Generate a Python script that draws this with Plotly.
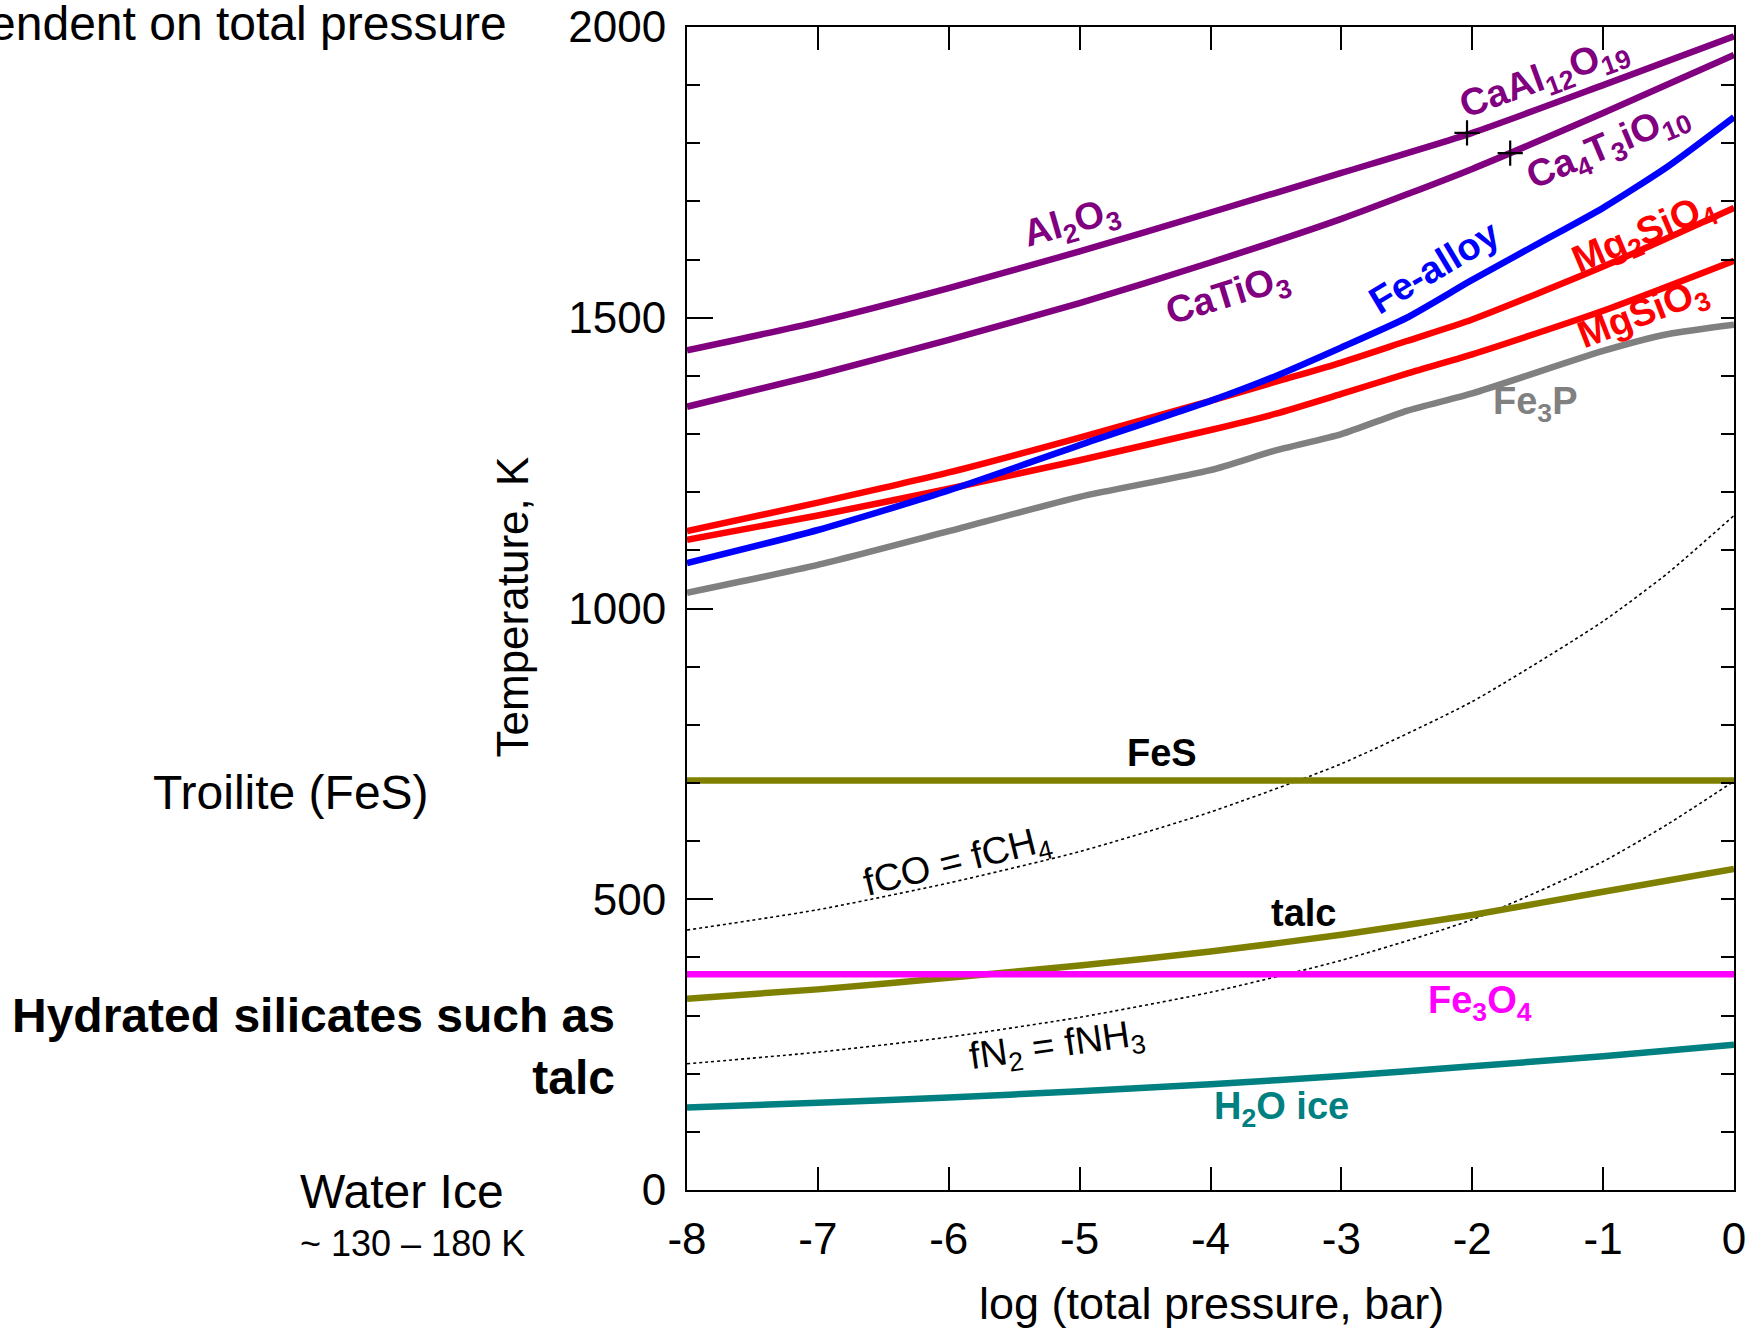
import plotly.graph_objects as go

# ---------------- data ----------------
P_GRID = [-8, -7, -6, -5, -4, -3, -2, -1, 0]
P_FINE = [-8, -7, -6, -5, -4, -3.5, -3, -2.5, -2, -1, 0]
P_DOT = [-8, -7, -6, -5, -4, -3, -2, -1, -0.5, 0]

CAAL12O19_T = [1444, 1493, 1551, 1614, 1681, 1749, 1818, 1900, 1984]
CATIO3_T = [1347, 1402, 1462, 1525, 1595, 1670, 1756, 1852, 1952]

FE_ALLOY_P = [-8, -7, -6, -5, -4, -3.5, -3, -2.5, -2, -1.5, -1, -0.5, 0]
FE_ALLOY_T = [1078, 1135, 1203, 1281, 1357, 1400, 1449, 1500, 1565, 1627, 1689, 1761, 1845]

MG2SIO4_T = [1133, 1182, 1234, 1294, 1357, 1390, 1423, 1460, 1497, 1588, 1689]
MGSIO3_T = [1118, 1160, 1206, 1255, 1307, 1335, 1369, 1404, 1437, 1512, 1598]

FE3P_P = [-8, -7, -6, -5, -4, -3.5, -3, -2.5, -2, -1, -0.5, 0]
FE3P_T = [1027, 1075, 1133, 1192, 1238, 1272, 1300, 1340, 1370, 1443, 1472, 1488]

FLAT_P = [-8, 0]
FES_T = [704, 704]
FE3O4_T = [371, 371]

TALC_T = [329, 345, 365, 386, 410, 439, 473, 513, 552]
H2O_T = [142, 150, 159, 170, 182, 196, 213, 230, 250]

FCO_T = [447, 482, 528, 582, 650, 733, 840, 978, 1062, 1160]
FN2_T = [217, 237, 263, 297, 340, 395, 465, 565, 630, 703]

CROSS_P = [-2.04, -1.71]
CROSS_T = [1818, 1783]

X_TICKVALS = [-8, -7, -6, -5, -4, -3, -2, -1, 0]
X_TICKTEXT = ["-8", "-7", "-6", "-5", "-4", "-3", "-2", "-1", "0"]
Y_TICKVALS = [0, 500, 1000, 1500, 2000]
Y_TICKTEXT = ["0", "500", "1000", "1500", "2000"]

# ---------------- styles ----------------
FONT = "Liberation Sans, Arial, Helvetica, sans-serif"
PURPLE = "#800080"
RED = "#ff0000"
BLUE = "#0000ff"
GRAY = "#808080"
OLIVE = "#808000"
MAGENTA = "#ff00ff"
TEAL = "#008080"
LW = 6.5

fig = go.Figure()


def line(x, y, color, width=LW, dash=None, shape="spline"):
    fig.add_trace(go.Scatter(
        x=x, y=y, mode="lines", showlegend=False, hoverinfo="skip",
        line=dict(color=color, width=width, dash=dash, shape=shape,
                  smoothing=0.6 if shape == "spline" else None)))


line(P_DOT, FCO_T, "black", width=1.6, dash="dot")
line(P_DOT, FN2_T, "black", width=1.6, dash="dot")
line(P_GRID, H2O_T, TEAL)
line(P_GRID, TALC_T, OLIVE)
line(FLAT_P, FE3O4_T, MAGENTA, shape="linear")
line(FLAT_P, FES_T, OLIVE, shape="linear")
line(FE3P_P, FE3P_T, GRAY)
line(P_FINE, MGSIO3_T, RED)
line(P_FINE, MG2SIO4_T, RED)
line(FE_ALLOY_P, FE_ALLOY_T, BLUE)
line(P_GRID, CATIO3_T, PURPLE)
line(P_GRID, CAAL12O19_T, PURPLE)

fig.add_trace(go.Scatter(
    x=CROSS_P, y=CROSS_T, mode="markers", showlegend=False, hoverinfo="skip",
    marker=dict(symbol="cross-thin", size=18, color="black",
                line=dict(color="black", width=2.2))))

# empty trace for the mirrored tick axes (top / right)
fig.add_trace(go.Scatter(x=[], y=[], xaxis="x2", yaxis="y2", showlegend=False))

# ---------------- curve labels ----------------
labels = [
    ("Al<sub>2</sub>O<sub>3</sub>", -5.06, 1662, -16, PURPLE, True, 38),
    ("CaTiO<sub>3</sub>", -3.87, 1536, -17, PURPLE, True, 38),
    ("CaAl<sub>12</sub>O<sub>19</sub>", -1.45, 1910, -20, PURPLE, True, 38),
    ("Ca<sub>4</sub>T<sub>3</sub>iO<sub>10</sub>", -0.96, 1793, -23, PURPLE, True, 38),
    ("Fe-alloy", -2.29, 1588, -31, BLUE, True, 38),
    ("Mg<sub>2</sub>SiO<sub>4</sub>", -0.69, 1643, -23, RED, True, 38),
    ("MgSiO<sub>3</sub>", -0.69, 1504, -21, RED, True, 38),
    ("Fe<sub>3</sub>P", -1.52, 1352, 0, GRAY, True, 38),
    ("FeS", -4.37, 752, 0, "black", True, 38),
    ("fCO = fCH<sub>4</sub>", -5.93, 563, -14, "black", False, 38),
    ("talc", -3.29, 476, 0, "black", True, 38),
    ("Fe<sub>3</sub>O<sub>4</sub>", -1.94, 322, 0, MAGENTA, True, 38),
    ("fN<sub>2</sub> = fNH<sub>3</sub>", -5.17, 246, -8, "black", False, 38),
    ("H<sub>2</sub>O ice", -3.46, 139, 0, TEAL, True, 38),
]
for text, x, y, ang, col, bold, size in labels:
    fig.add_annotation(
        x=x, y=y, xref="x", yref="y", showarrow=False,
        text=f"<b>{text}</b>" if bold else text, textangle=ang,
        font=dict(family=FONT, size=size, color=col),
        xanchor="center", yanchor="middle")

# ---------------- side texts ----------------
side = [
    ("dependent on total pressure", -0.170, 1.003, "right", "middle", 48, False, "left"),
    ("Troilite (FeS)", -0.2445, 0.3414, "right", "middle", 48, False, "left"),
    ("Hydrated silicates such as<br>talc", -0.0664, 0.123, "right", "middle", 48, True, "right"),
    ("Water Ice", -0.3715, -0.0017, "left", "middle", 48, False, "left"),
    ("~ 130 – 180 K", -0.3715, -0.0464, "left", "middle", 36, False, "left"),
]
for text, x, y, xa, ya, size, bold, align in side:
    fig.add_annotation(
        x=x, y=y, xref="paper", yref="paper", showarrow=False,
        text=f"<b>{text}</b>" if bold else text, align=align,
        font=dict(family=FONT, size=size, color="black"),
        xanchor=xa, yanchor=ya)

# axis titles
fig.add_annotation(x=-0.167, y=0.501, xref="paper", yref="paper", showarrow=False,
                   text="Temperature, K", textangle=-90,
                   font=dict(family=FONT, size=44, color="black"),
                   xanchor="center", yanchor="middle")
fig.add_annotation(x=0.5005, y=-0.098, xref="paper", yref="paper", showarrow=False,
                   text="log (total pressure, bar)",
                   font=dict(family=FONT, size=45, color="black"),
                   xanchor="center", yanchor="middle")

# ---------------- axes ----------------
fig.update_layout(
    width=1763, height=1330,
    margin=dict(l=687, r=29, t=27, b=140),
    plot_bgcolor="white", paper_bgcolor="white",
    showlegend=False,
    xaxis=dict(range=[-8, 0], tickmode="array", tickvals=X_TICKVALS, ticktext=X_TICKTEXT,
               ticks="inside", ticklen=23, tickwidth=1.5, tickcolor="black",
               showline=True, linecolor="black", linewidth=2, mirror=True,
               showgrid=False, zeroline=False, automargin=False,
               tickfont=dict(family=FONT, size=44, color="black"),
               ticklabelstandoff=9),
    yaxis=dict(range=[0, 2000], tickmode="array", tickvals=Y_TICKVALS, ticktext=Y_TICKTEXT,
               ticks="inside", ticklen=26, tickwidth=1.5, tickcolor="black",
               minor=dict(dtick=100, tick0=0, ticks="inside", ticklen=13, tickwidth=1.5,
                          tickcolor="black", showgrid=False),
               showline=True, linecolor="black", linewidth=2, mirror=True,
               showgrid=False, zeroline=False, automargin=False,
               tickfont=dict(family=FONT, size=44, color="black"),
               ticklabelstandoff=10),
    xaxis2=dict(range=[-8, 0], overlaying="x", side="top", anchor="y2",
                tickmode="array", tickvals=X_TICKVALS, showticklabels=False,
                ticks="inside", ticklen=23, tickwidth=1.5, tickcolor="black",
                showline=False, showgrid=False, zeroline=False),
    yaxis2=dict(range=[0, 2000], overlaying="y", side="right", anchor="x2",
                dtick=100, tick0=0, showticklabels=False,
                ticks="inside", ticklen=13, tickwidth=1.5, tickcolor="black",
                showline=False, showgrid=False, zeroline=False),
)

fig.write_html("out.html", config={"displayModeBar": False},
               post_script="document.body.style.margin='0px';document.body.style.overflow='hidden';")
